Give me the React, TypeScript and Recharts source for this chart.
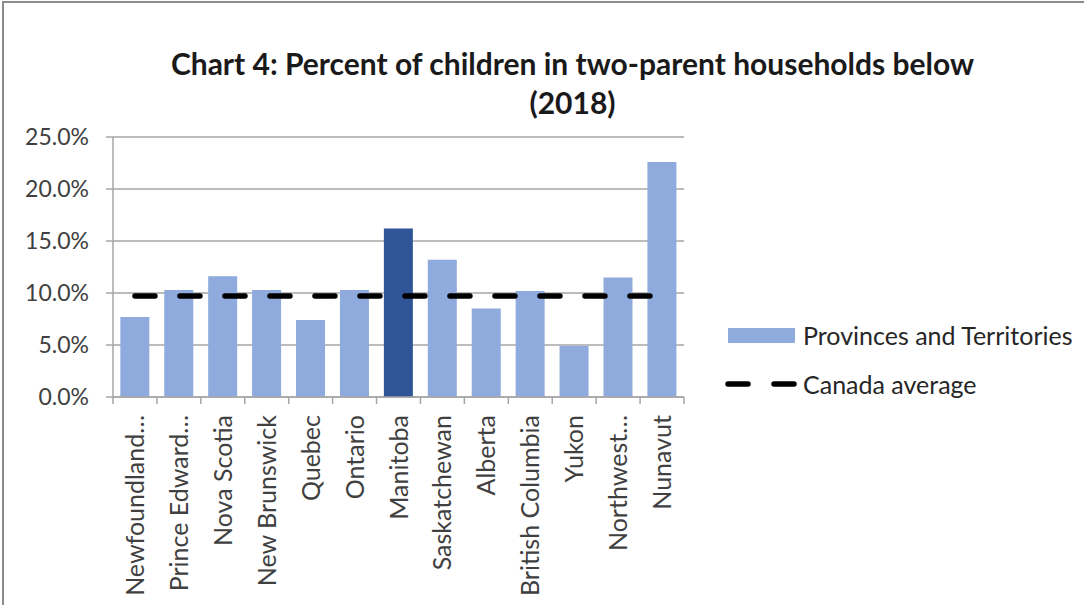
import React from "react";
import { ComposedChart, Bar, Line, XAxis, YAxis, CartesianGrid, Cell } from "recharts";

const FONT = "Lato, 'Open Sans', sans-serif";
const GRID = "#a6a6a6";
const TEXT = "#404040";
const LIGHT_BLUE = "#8faadc";
const DARK_BLUE = "#2f5597";

const CHART_W = 1084;
const CHART_H = 605;
const MARGIN = { top: 137, right: 400, bottom: 0, left: 0 };
const Y_AXIS_W = 113;
const X_AXIS_H = 208;

const categories = [
  "Newfoundland…",
  "Prince Edward…",
  "Nova Scotia",
  "New Brunswick",
  "Quebec",
  "Ontario",
  "Manitoba",
  "Saskatchewan",
  "Alberta",
  "British Columbia",
  "Yukon",
  "Northwest…",
  "Nunavut",
];
const provinceValues = [7.7, 10.3, 11.6, 10.3, 7.4, 10.3, 16.2, 13.2, 8.5, 10.2, 4.9, 11.5, 22.6];
const canadaAverage = [9.7, 9.7, 9.7, 9.7, 9.7, 9.7, 9.7, 9.7, 9.7, 9.7, 9.7, 9.7, 9.7];
const highlighted = ["Manitoba"];
const yTicks = [0, 5, 10, 15, 20, 25];

const data = categories.map((name, i) => ({
  name,
  value: provinceValues[i],
  avg: canadaAverage[i],
}));

const BAND = (CHART_W - MARGIN.right - Y_AXIS_W) / categories.length;

// category ticks sit on the band edges, like Excel
const CategoryTick = (props: any) => {
  const { x, y, payload, index } = props;
  const left = x - BAND / 2;
  const right = x + BAND / 2;
  return (
    <g>
      <line x1={left} x2={left} y1={y} y2={y + 7} stroke={GRID} strokeWidth={1.5} />
      {index === categories.length - 1 && (
        <line x1={right} x2={right} y1={y} y2={y + 7} stroke={GRID} strokeWidth={1.5} />
      )}
      <text
        x={0}
        y={0}
        transform={`translate(${x}, ${y + 18}) rotate(-90)`}
        textAnchor="end"
        dy="0.36em"
        fill={TEXT}
        fontSize={25}
        fontFamily={FONT}
      >
        {payload.value}
      </text>
    </g>
  );
};

const LegendBox = () => (
  <div style={{ position: "absolute", left: 725, top: 320, fontFamily: FONT, fontSize: 25, color: "#262626" }}>
    <div style={{ display: "flex", alignItems: "center", height: 30 }}>
      <div style={{ width: 67, height: 15, background: LIGHT_BLUE, marginLeft: 3 }} />
      <span style={{ marginLeft: 8 }}>Provinces and Territories</span>
    </div>
    <div style={{ display: "flex", alignItems: "center", height: 30, marginTop: 19 }}>
      <svg width={72} height={10}>
        <line x1={3} x2={69} y1={5} y2={5} stroke="#000" strokeWidth={5.5} strokeDasharray="20 26" strokeLinecap="round" />
      </svg>
      <span style={{ marginLeft: 6 }}>Canada average</span>
    </div>
  </div>
);

export default function App() {
  return (
    <div style={{ position: "absolute", left: 0, top: 0, width: CHART_W, height: CHART_H, background: "#fff" }}>
      <div
        style={{
          position: "absolute",
          left: 2,
          top: 1,
          right: 0,
          bottom: 0,
          borderTop: "2px solid #8c8c8c",
          borderLeft: "2px solid #8c8c8c",
        }}
      />
      <div
        style={{
          position: "absolute",
          left: 150,
          width: 845,
          top: 44,
          textAlign: "center",
          fontFamily: FONT,
          fontWeight: 700,
          fontSize: 30,
          lineHeight: "39px",
          color: "#1a1a1a",
        }}
      >
        Chart 4: Percent of children in two-parent households below
        <br />
        (2018)
      </div>
      <ComposedChart width={CHART_W} height={CHART_H} data={data} margin={MARGIN} barCategoryGap="16.7%">
        <CartesianGrid vertical={false} stroke={GRID} strokeWidth={1.5} />
        <XAxis
          dataKey="name"
          interval={0}
          height={X_AXIS_H}
          tickLine={false}
          tickSize={0}
          tickMargin={0}
          tick={<CategoryTick />}
          axisLine={{ stroke: GRID, strokeWidth: 1.5 }}
        />
        <YAxis
          width={Y_AXIS_W}
          domain={[0, 25]}
          ticks={yTicks}
          tickFormatter={(v: number) => `${v.toFixed(1)}%`}
          tickSize={7}
          tickMargin={17}
          tick={{ fill: TEXT, fontSize: 23, fontFamily: FONT }}
          tickLine={{ stroke: GRID, strokeWidth: 1.5 }}
          axisLine={{ stroke: GRID, strokeWidth: 1.5 }}
        />
        <Bar dataKey="value" isAnimationActive={false}>
          {data.map((d) => (
            <Cell key={d.name} fill={highlighted.includes(d.name) ? DARK_BLUE : LIGHT_BLUE} />
          ))}
        </Bar>
        <Line
          dataKey="avg"
          type="linear"
          stroke="#000"
          strokeWidth={5.5}
          strokeDasharray="20 25"
          strokeLinecap="round"
          dot={false}
          activeDot={false}
          isAnimationActive={false}
        />
      </ComposedChart>
      <LegendBox />
    </div>
  );
}
